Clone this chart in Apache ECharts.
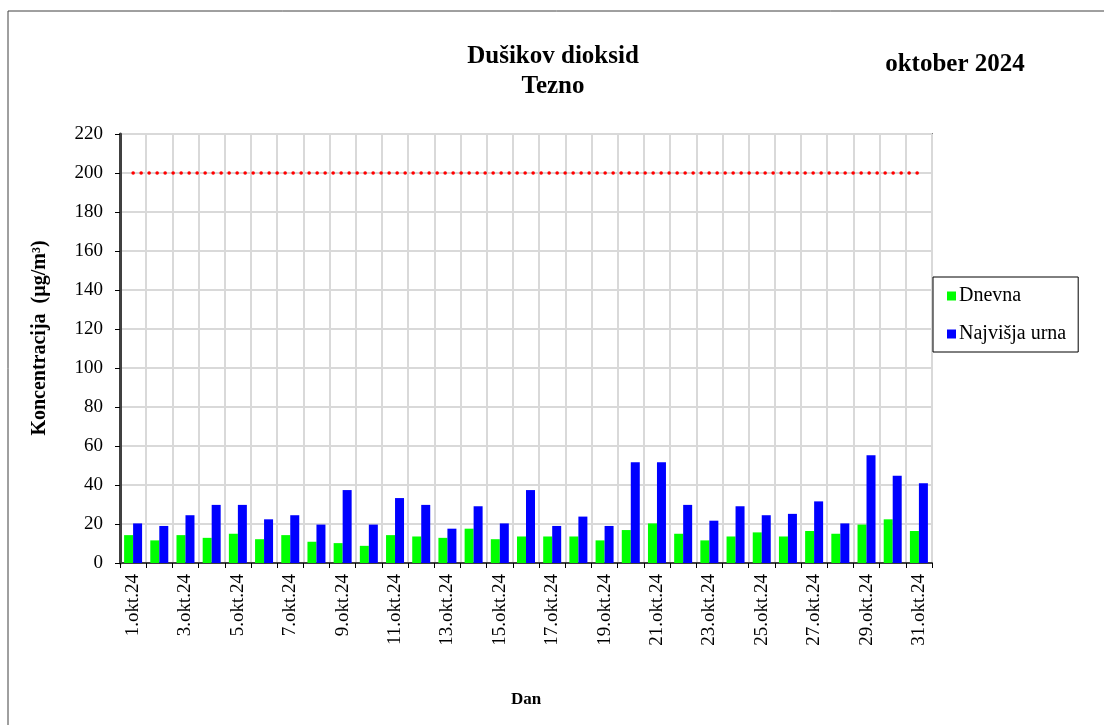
<!DOCTYPE html>
<html><head><meta charset="utf-8">
<script src="https://cdn.jsdelivr.net/npm/echarts@6/dist/echarts.min.js"></script>
<style>html,body{margin:0;padding:0;background:#fff}#c{width:1104px;height:725px}</style>
</head><body><div id="c"></div>
<script>
const categories = ["1.okt.24","2.okt.24","3.okt.24","4.okt.24","5.okt.24","6.okt.24","7.okt.24","8.okt.24","9.okt.24","10.okt.24","11.okt.24","12.okt.24","13.okt.24","14.okt.24","15.okt.24","16.okt.24","17.okt.24","18.okt.24","19.okt.24","20.okt.24","21.okt.24","22.okt.24","23.okt.24","24.okt.24","25.okt.24","26.okt.24","27.okt.24","28.okt.24","29.okt.24","30.okt.24","31.okt.24"];
const dnevna = [14.3,11.6,14.3,12.9,15.0,12.2,14.3,10.9,10.2,8.8,14.3,13.6,12.9,17.6,12.2,13.6,13.6,13.6,11.6,16.9,20.3,15.0,11.6,13.6,15.7,13.6,16.4,15.0,19.7,22.4,16.4];
const najvisjaUrna = [20.3,19.0,24.5,29.8,29.8,22.4,24.5,19.7,37.4,19.7,33.3,29.8,17.6,29.1,20.3,37.4,19.0,23.8,19.0,51.7,51.7,29.8,21.7,29.1,24.5,25.2,31.6,20.3,55.2,44.8,40.9];
const LIMIT = 200;
const yTicks = [0,20,40,60,80,100,120,140,160,180,200,220];

const FONT = "'Liberation Serif','Times New Roman',serif";
const chart = echarts.init(document.getElementById('c'), null, {renderer:'canvas'});
chart.setOption({
  backgroundColor:'#fff',
  animation:false,
  graphic:[
    {type:'rect', shape:{x:8,y:11,width:1200,height:800}, style:{fill:'none',stroke:'#404040',lineWidth:1}, z:-10},
    {type:'text', style:{text:'Dušikov dioksid', font:"bold 25px "+FONT, fill:'#000', textAlign:'center', textVerticalAlign:'middle', x:553, y:57}},
    {type:'text', style:{text:'Tezno', font:"bold 25px "+FONT, fill:'#000', textAlign:'center', textVerticalAlign:'middle', x:553, y:87}},
    {type:'text', style:{text:'oktober 2024', font:"bold 25px "+FONT, fill:'#000', textAlign:'center', textVerticalAlign:'middle', x:955, y:65}},
    {type:'text', x:40, y:338, rotation:Math.PI/2, style:{text:'Koncentracija  (µg/m³)', font:"bold 20px "+FONT, fill:'#000', textAlign:'center', textVerticalAlign:'middle'}}
  ],
  grid:{left:120, right:172, top:134, bottom:162, show:true, borderColor:'#808080', borderWidth:2, backgroundColor:'transparent'},
  legend:{
    orient:'vertical', left:933, top:277, data:['Dnevna','Najvišja urna'],
    itemWidth:9, itemHeight:9, itemGap:18, icon:'rect',
    textStyle:{fontFamily:FONT, fontSize:20, color:'#000', padding:[0,0,0,-2]},
    backgroundColor:'#fff', borderColor:'#000', borderWidth:1, padding:[9,12,8,14]
  },
  xAxis:{
    type:'category', data:categories, boundaryGap:true,
    name:'Dan', nameLocation:'middle', nameGap:128,
    nameTextStyle:{fontFamily:FONT, fontSize:17, fontWeight:'bold', color:'#000'},
    axisLine:{lineStyle:{color:'#404040', width:2}},
    axisTick:{show:true, interval:0, length:5, lineStyle:{color:'#000', width:1}},
    axisLabel:{interval:1, rotate:90, fontFamily:FONT, fontSize:19, color:'#000', margin:11},
    splitLine:{show:true, interval:0, lineStyle:{color:'#d9d9d9', width:2}}
  },
  yAxis:{
    type:'value', min:0, max:220, interval:20,
    axisLine:{show:true, lineStyle:{color:'#404040', width:3}},
    axisTick:{show:true, length:5, lineStyle:{color:'#000', width:1}},
    axisLabel:{fontFamily:FONT, fontSize:19, color:'#000', margin:17,
      formatter:v => yTicks.includes(v) ? String(v) : ''},
    splitLine:{show:true, lineStyle:{color:'#d9d9d9', width:2}}
  },
  series:[
    {name:'Dnevna', type:'bar', data:dnevna, barWidth:9, barGap:'0%', itemStyle:{color:'#00ff00'}},
    {name:'Najvišja urna', type:'bar', data:najvisjaUrna, barWidth:9, barGap:'0%', itemStyle:{color:'#0000ff'}},
    {name:'Mejna vrednost', type:'line', data:categories.map(() => LIMIT), symbol:'none',
      lineStyle:{color:'#ff0000', width:3.5, type:[0.1,7.9], cap:'round'}, z:5}
  ]
});
</script></body></html>
